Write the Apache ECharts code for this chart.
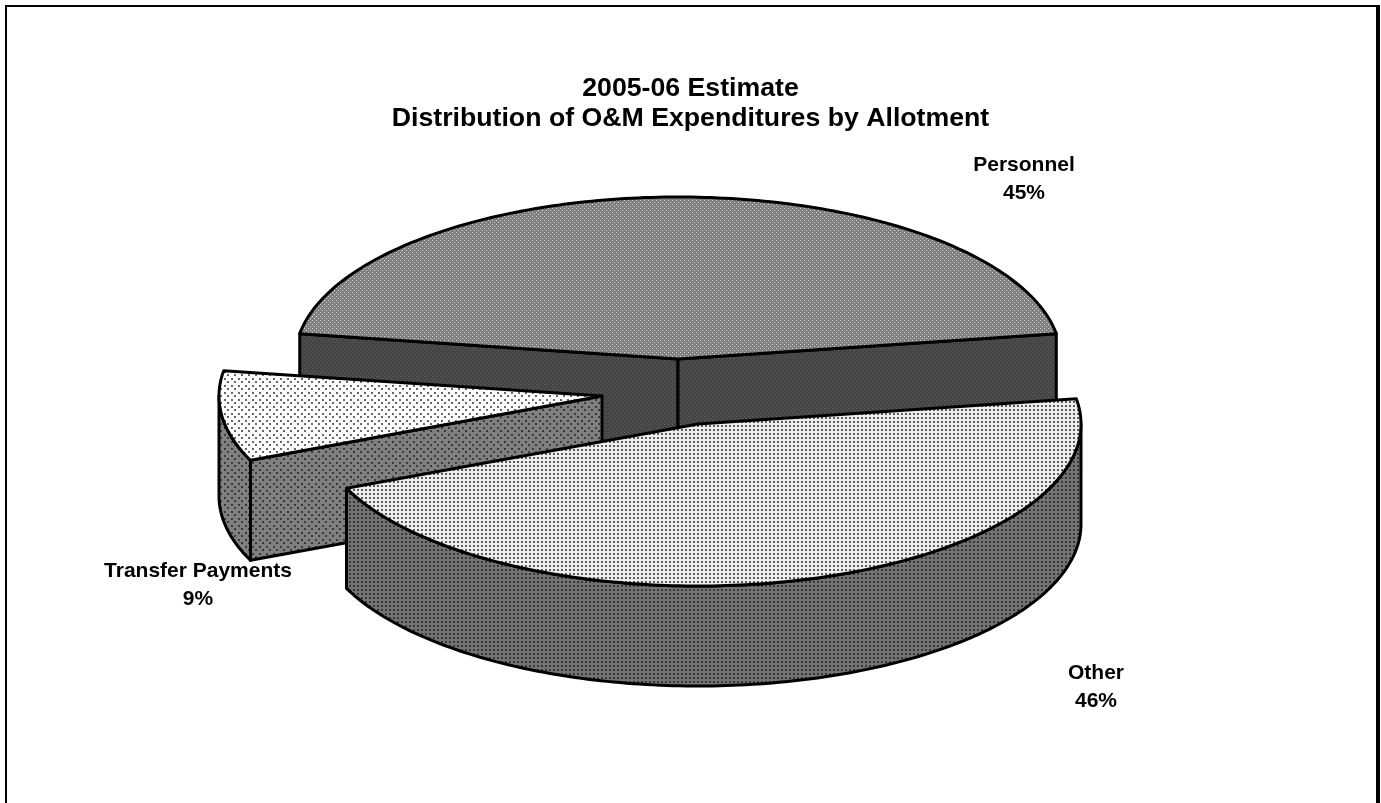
<!DOCTYPE html>
<html>
<head>
<meta charset="utf-8">
<style>html,body{margin:0;padding:0;background:#fff}#c{width:1381px;height:803px}</style>
<script src="https://cdn.jsdelivr.net/npm/echarts@6/dist/echarts.min.js"></script>
</head>
<body>
<div id="c"></div>
<script>
// data
const categories = ['Personnel', 'Other', 'Transfer Payments'];
const shares = [45, 46, 9];
const titleLines = ['2005-06 Estimate', 'Distribution of O&M Expenditures by Allotment'];

// layout
const startAngle = 171, rx = 383, ry = 162, depth = 100;
const centers = { 'Personnel': [678, 359], 'Other': [698, 424], 'Transfer Payments': [602, 396] };
const labelAt = { 'Personnel': [1024, 179.5], 'Other': [1096, 687], 'Transfer Payments': [198, 585] };
const paintOrder = { 'Personnel': 0, 'Transfer Payments': 1, 'Other': 2 };

// fill patterns
function tile(w, h, bg, fg, dots) {
  const c = document.createElement('canvas');
  c.width = w; c.height = h;
  const g = c.getContext('2d');
  g.fillStyle = bg; g.fillRect(0, 0, w, h);
  g.fillStyle = fg;
  dots.forEach(d => g.fillRect(d[0], d[1], d[2], d[3]));
  return { image: c, repeat: 'repeat' };
}
const topFills = {
  'Personnel': tile(4, 4, '#808080', '#d4d4d4', [[0,0,1,1],[2,2,1,1]]),
  'Other': tile(4, 4, '#eeeeee', '#5c5c5c', [[1,1,2,2]]),
  'Transfer Payments': tile(7, 7, '#ffffff', '#666666', [[0,0,2,2],[3,3,2,2]])
};
const wallFills = {
  'Personnel': tile(4, 4, '#444444', '#666666', [[0,0,1,1],[2,2,1,1]]),
  'Other': tile(4, 4, '#747474', '#383838', [[1,1,2,2]]),
  'Transfer Payments': tile(7, 7, '#808080', '#3a3a3a', [[0,0,2,2],[3,3,2,2]])
};

const total = shares.reduce((a, b) => a + b, 0);
function spanOf(i) {
  let s = startAngle;
  for (let k = 0; k < i; k++) s -= shares[k] / total * 360;
  return [s, s - shares[i] / total * 360];
}
function pt(c, deg, drop) {
  const t = deg * Math.PI / 180;
  return [c[0] + rx * Math.cos(t), c[1] - ry * Math.sin(t) + (drop || 0)];
}
function arc(c, from, to, drop) {
  const n = Math.max(2, Math.ceil(Math.abs(from - to)));
  const out = [];
  for (let i = 0; i <= n; i++) out.push(pt(c, from + (to - from) * i / n, drop));
  return out;
}

function renderItem(params, api) {
  const i = params.dataIndex;
  const name = categories[i];
  const c = centers[name];
  const span = spanOf(i), a0 = span[0], a1 = span[1];
  const z = paintOrder[name] * 10;
  const line = { stroke: '#000', lineWidth: 3, lineJoin: 'round' };
  const children = [];
  const poly = (points, fill, z2) => ({
    type: 'polygon', z2: z + z2,
    shape: { points: points },
    style: Object.assign({ fill: fill }, line)
  });
  const wallFrom = (deg) => poly([[c[0], c[1]], pt(c, deg), pt(c, deg, depth), [c[0], c[1] + depth]], wallFills[name], 1);
  // radial walls that face the viewer
  if (Math.cos(a0 * Math.PI / 180) < 0) children.push(wallFrom(a0));
  if (Math.cos(a1 * Math.PI / 180) > 0) children.push(wallFrom(a1));
  // outer rim on the near half
  const hi = Math.min(a0, 0), lo = Math.max(a1, -180);
  if (hi > lo) {
    children.push(poly(arc(c, hi, lo, 0).concat(arc(c, lo, hi, depth)), wallFills[name], 2));
  }
  // top face
  children.push(poly([[c[0], c[1]]].concat(arc(c, a0, a1, 0)), topFills[name], 3));
  // label
  const at = labelAt[name];
  children.push({
    type: 'text', z2: 100,
    style: {
      x: at[0], y: at[1],
      text: name + '\n' + api.value(0) + '%',
      fill: '#000', align: 'center', verticalAlign: 'middle',
      font: 'bold 21px "Liberation Sans", Arial, sans-serif', lineHeight: 28
    }
  });
  return { type: 'group', children: children };
}

const chart = echarts.init(document.getElementById('c'), null, { renderer: 'canvas' });
chart.setOption({
  animation: false,
  backgroundColor: '#fff',
  title: {
    text: titleLines.join('\n'),
    left: 'center', top: 69,
    textStyle: { fontFamily: '"Liberation Sans", Arial, sans-serif', fontWeight: 'bold', fontSize: 26.7, lineHeight: 30, color: '#000' }
  },
  graphic: [
    { type: 'rect', silent: true, shape: { x: 5, y: 5, width: 2, height: 798 }, style: { fill: '#000' } },
    { type: 'rect', silent: true, shape: { x: 5, y: 5, width: 1375, height: 2 }, style: { fill: '#000' } },
    { type: 'rect', silent: true, shape: { x: 1376, y: 5, width: 4, height: 798 }, style: { fill: '#000' } }
  ],
  series: [{
    type: 'custom',
    coordinateSystem: 'none',
    renderItem: renderItem,
    data: shares.map(v => [v])
  }]
});
</script>
</body>
</html>
